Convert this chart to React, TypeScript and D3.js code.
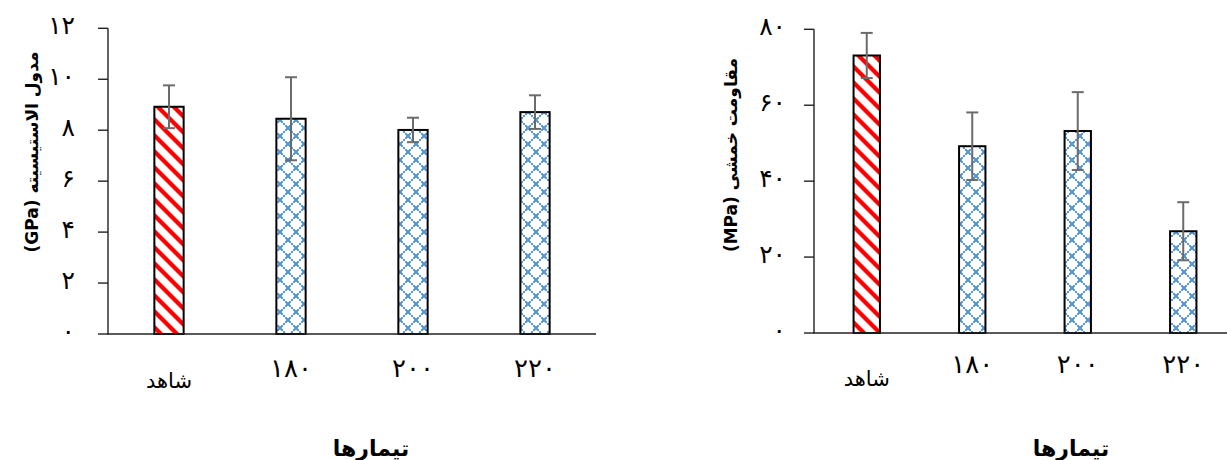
import React from 'react'
import * as d3 from 'd3'

// treatments (x categories), shared by both panels
const categories = ['شاهد', '۱۸۰', '۲۰۰', '۲۲۰']

// left panel: modulus of elasticity (GPa)
const modulusMean = [8.92, 8.45, 8.01, 8.71]
const modulusErr = [0.84, 1.63, 0.48, 0.66]
const modulusTicks = [0, 2, 4, 6, 8, 10, 12]

// right panel: bending strength (MPa)
const strengthMean = [73.1, 49.2, 53.2, 26.8]
const strengthErr = [5.95, 8.9, 10.25, 7.65]
const strengthTicks = [0, 20, 40, 60, 80]

const xTitle = 'تیمارها'
const modulusTitle = 'مدول الاستیسیته (GPa)'
const strengthTitle = 'مقاومت خمشی (MPa)'

const fa = (n: number) => String(n).replace(/\d/g, d => '۰۱۲۳۴۵۶۷۸۹'[+d])

const font = '"DejaVu Sans", sans-serif'

type PanelProps = {
  means: number[]
  errs: number[]
  ticks: number[]
  max: number
  x0: number
  x1: number
  yTop: number
  yBottom: number
  pad: number
  tickLabelGap: number
  xLabelDigitDy: number
  xLabelTextDy: number
  title: string
  titleX: number
  titleY: number
  xTitleX: number
}

const Panel = (p: PanelProps) => {
  const x = d3.scaleBand<string>()
    .domain(categories)
    .range([p.x0, p.x1])
    .paddingInner(p.pad)
    .paddingOuter(p.pad / 2)

  const y = d3.scaleLinear()
    .domain([0, p.max])
    .range([p.yBottom, p.yTop])

  const bw = x.bandwidth()
  const cap = 6

  return (
    <g>
      {/* bars */}
      {categories.map((c, i) => (
        <rect key={'b' + i}
          x={x(c)} y={y(p.means[i])}
          width={bw} height={y(0) - y(p.means[i])}
          fill={i === 0 ? 'url(#stripe)' : 'url(#diamond)'}
          stroke="#000" strokeWidth={2} />
      ))}

      {/* error bars */}
      {categories.map((c, i) => {
        const cx = (x(c) as number) + bw / 2
        const hi = y(p.means[i] + p.errs[i])
        const lo = y(p.means[i] - p.errs[i])
        return (
          <g key={'e' + i} stroke="#6b6b6b" strokeWidth={2}>
            <line x1={cx} x2={cx} y1={hi} y2={lo} />
            <line x1={cx - cap} x2={cx + cap} y1={hi} y2={hi} />
            <line x1={cx - cap} x2={cx + cap} y1={lo} y2={lo} />
          </g>
        )
      })}

      {/* y axis */}
      <line x1={p.x0} x2={p.x0} y1={p.yTop} y2={p.yBottom} stroke="#222" strokeWidth={1.4} />
      {p.ticks.map(t => (
        <g key={'t' + t}>
          <line x1={p.x0 - 10} x2={p.x0} y1={y(t)} y2={y(t)} stroke="#222" strokeWidth={1.4} />
          <text x={p.x0 - p.tickLabelGap} y={y(t) + 6} textAnchor="end"
            fontFamily={font} fontSize={25} fill="#000">{fa(t)}</text>
        </g>
      ))}

      {/* x axis */}
      <line x1={p.x0 - 1} x2={p.x1} y1={p.yBottom} y2={p.yBottom} stroke="#222" strokeWidth={1.4} />
      {categories.map(c => {
        const isNum = /[۰-۹]/.test(c)
        return (
          <text key={'x' + c} x={(x(c) as number) + bw / 2}
            y={p.yBottom + (isNum ? p.xLabelDigitDy : p.xLabelTextDy)}
            textAnchor="middle" fontFamily={font} fontSize={isNum ? 26 : 21}
            fill="#000">{c}</text>
        )
      })}

      {/* titles */}
      <text x={p.xTitleX} y={456} textAnchor="middle" fontFamily={font}
        fontSize={22} fontWeight="bold" fill="#000">{xTitle}</text>
      <text transform={`translate(${p.titleX},${p.titleY}) rotate(-90)`}
        direction="rtl" textAnchor="middle" fontFamily={font}
        fontSize={17} fontWeight="bold" fill="#000">{p.title}</text>
    </g>
  )
}

const diamondDots = [2, 4, 6, 10, 12, 14]
const diamondNodes = [[0, 0], [16, 0], [0, 16], [16, 16], [8, 8]]

export default function App() {
  return (
    <svg width={1227} height={460}
      style={{ position: 'absolute', left: 0, top: 0, background: '#fff' }}>
      <defs>
        <pattern id="stripe" patternUnits="userSpaceOnUse" width={16} height={16}>
          <rect width={16} height={16} fill="#fff" />
          <polygon points="0,0 6,0 16,10 16,16" fill="#ff0000" />
          <polygon points="0,10 6,16 0,16" fill="#ff0000" />
        </pattern>
        <pattern id="diamond" patternUnits="userSpaceOnUse" width={16} height={16}>
          <rect width={16} height={16} fill="#fff" />
          <g fill="#5b9bd5">
            {diamondDots.map(t => (
              <g key={t}>
                <rect x={t - 1} y={t - 1} width={2} height={2} />
                <rect x={16 - t - 1} y={t - 1} width={2} height={2} />
              </g>
            ))}
            {diamondNodes.map(([a, b]) => (
              <rect key={a + '-' + b} x={a - 2} y={b - 2} width={4} height={4} />
            ))}
          </g>
        </pattern>
      </defs>

      <Panel means={modulusMean} errs={modulusErr} ticks={modulusTicks} max={12}
        x0={108} x1={596} yTop={28.3} yBottom={334} pad={0.76}
        tickLabelGap={33} xLabelDigitDy={43} xLabelTextDy={54}
        title={modulusTitle} titleX={38} titleY={152} xTitleX={371} />

      <Panel means={strengthMean} errs={strengthErr} ticks={strengthTicks} max={80}
        x0={814} x1={1236} yTop={29.3} yBottom={333} pad={0.75}
        tickLabelGap={28} xLabelDigitDy={40} xLabelTextDy={53}
        title={strengthTitle} titleX={737} titleY={155} xTitleX={1071} />
    </svg>
  )
}
